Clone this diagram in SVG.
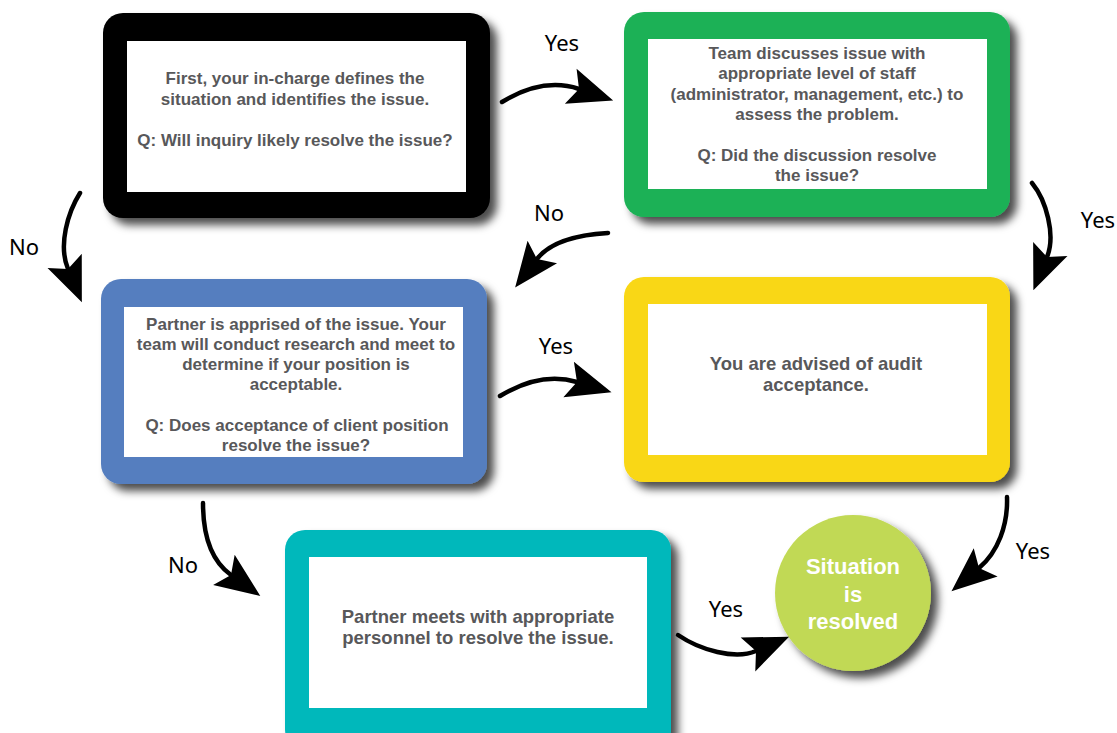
<svg xmlns="http://www.w3.org/2000/svg" width="1117" height="733" viewBox="0 0 1117 733">
<defs>
<filter id="sh" x="-10%" y="-10%" width="130%" height="140%">
<feDropShadow dx="7" dy="7" stdDeviation="4" flood-color="#000" flood-opacity="0.7"/>
</filter>
<marker id="ah" markerUnits="userSpaceOnUse" markerWidth="60" markerHeight="60" refX="0" refY="0" viewBox="-15 -25 55 50" orient="auto" overflow="visible">
<path d="M-8,-17 L33,0 L-8,17 L0,0 Z" fill="#000"/>
</marker>
</defs>
<style>
.t{font-family:"Liberation Sans",Arial,sans-serif;font-weight:bold;font-size:17px;fill:#58585a;text-anchor:middle}
.tb{font-size:18.5px}
.c{font-family:"Liberation Sans",Arial,sans-serif;font-weight:bold;font-size:22px;fill:#fff;text-anchor:middle}
.l{font-family:"Noto Sans",sans-serif;font-size:22px;fill:#000;text-anchor:middle}
.in{fill:#fff}
.cn{fill:none;stroke:#000;stroke-width:4.5;stroke-linecap:round;marker-end:url(#ah)}
</style>
<rect width="1117" height="733" fill="#fff"/>

<g id="n1">
<rect x="103" y="13" width="387" height="205" rx="20" fill="#000" filter="url(#sh)"/>
<rect class="in" x="127" y="41" width="339" height="151"/>
<text class="t" x="295" y="84">First, your in-charge defines the</text>
<text class="t" x="295" y="105">situation and identifies the issue.</text>
<text class="t" x="295" y="146">Q: Will inquiry likely resolve the issue?</text>
</g>

<g id="n2">
<rect x="624" y="12" width="386" height="205" rx="20" fill="#1bb156" filter="url(#sh)"/>
<rect class="in" x="648" y="39" width="339" height="150"/>
<text class="t" x="817" y="59">Team discusses issue with</text>
<text class="t" x="817" y="79">appropriate level of staff</text>
<text class="t" x="817" y="100">(administrator, management, etc.) to</text>
<text class="t" x="817" y="120">assess the problem.</text>
<text class="t" x="817" y="161">Q: Did the discussion resolve</text>
<text class="t" x="817" y="181">the issue?</text>
</g>

<g id="n3">
<rect x="101" y="279" width="386" height="205" rx="20" fill="#547ebf" filter="url(#sh)"/>
<rect class="in" x="124" y="307" width="339" height="150"/>
<text class="t" x="296" y="330">Partner is apprised of the issue. Your</text>
<text class="t" x="296" y="350">team will conduct research and meet to</text>
<text class="t" x="296" y="370">determine if your position is</text>
<text class="t" x="296" y="390">acceptable.</text>
<text class="t" x="297" y="431">Q: Does acceptance of client position</text>
<text class="t" x="296" y="451">resolve the issue?</text>
</g>

<g id="n4">
<rect x="624" y="277" width="386" height="205" rx="20" fill="#f9d712" filter="url(#sh)"/>
<rect class="in" x="648" y="304" width="339" height="151"/>
<text class="t tb" x="816" y="370">You are advised of audit</text>
<text class="t tb" x="816" y="391">acceptance.</text>
</g>

<g id="n5">
<rect x="285" y="530" width="386" height="220" rx="20" fill="#00b8bb" filter="url(#sh)"/>
<rect class="in" x="309" y="557" width="338" height="151"/>
<text class="t tb" x="478" y="623">Partner meets with appropriate</text>
<text class="t tb" x="478" y="644">personnel to resolve the issue.</text>
</g>

<g id="n6">
<circle cx="853" cy="593" r="78" fill="#c1d954" filter="url(#sh)"/>
<text class="c" x="853" y="574">Situation</text>
<text class="c" x="853" y="602">is</text>
<text class="c" x="853" y="629">resolved</text>
</g>

<g id="connectors">
<path class="cn" d="M502,102 C525,88 552,80 579,89"/>
<path class="cn" d="M80,193 C68,212 58,245 68,269"/>
<path class="cn" d="M608,233 C575,235 550,242 537,259"/>
<path class="cn" d="M1032,183 C1046,200 1056,235 1047,257"/>
<path class="cn" d="M500,396 C523,382 550,374 577,382"/>
<path class="cn" d="M203,503 C203,532 210,560 231,575"/>
<path class="cn" d="M678,635 C700,650 735,660 756,651"/>
<path class="cn" d="M1007,497 C1008,525 998,552 979,568"/>
<text class="l" x="562" y="51">Yes</text>
<text class="l" x="24" y="255">No</text>
<text class="l" x="549" y="221">No</text>
<text class="l" x="1098" y="228">Yes</text>
<text class="l" x="556" y="354">Yes</text>
<text class="l" x="183" y="573">No</text>
<text class="l" x="726" y="617">Yes</text>
<text class="l" x="1033" y="559">Yes</text>
</g>
</svg>
